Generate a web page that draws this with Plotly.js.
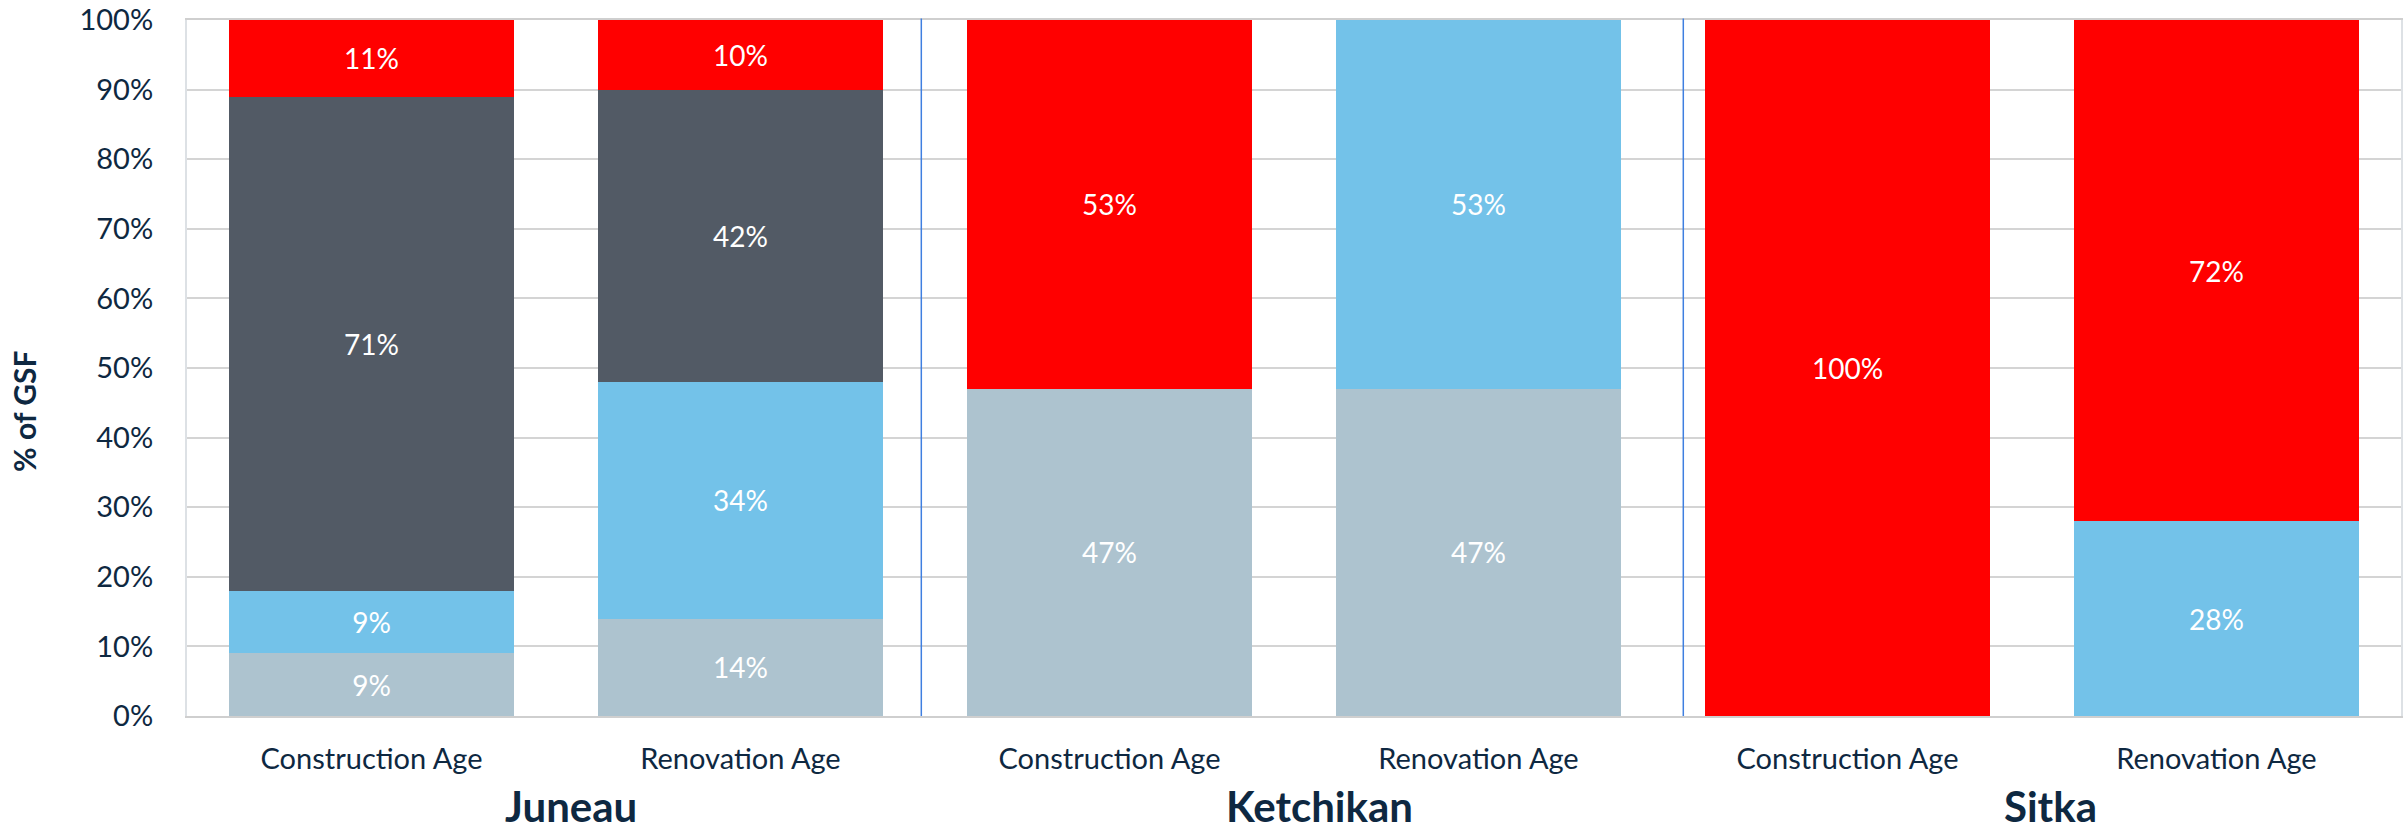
<!DOCTYPE html>
<html>
<head>
<meta charset="utf-8">
<script src="https://cdn.plot.ly/plotly-3.0.1.min.js"></script>
<style>html,body{margin:0;padding:0;background:#fff}#chart{width:2404px;height:832px}</style>
</head>
<body>
<div id="chart"></div>
<script>
// ---- data ----
const categories = ["Juneau|Construction", "Juneau|Renovation", "Ketchikan|Construction", "Ketchikan|Renovation", "Sitka|Construction", "Sitka|Renovation"];
const tickLabels = ["Construction Age", "Renovation Age", "Construction Age", "Renovation Age", "Construction Age", "Renovation Age"];
const groups = ["Juneau", "Ketchikan", "Sitka"];
const seriesA = [9, 14, 47, 47, 0, 0];    // bottom (grey-blue)
const seriesB = [9, 34, 0, 53, 0, 28];    // light blue
const seriesC = [71, 42, 0, 0, 0, 0];     // dark grey
const seriesD = [11, 10, 53, 0, 100, 72]; // red (top)
const yTicks = [0, 10, 20, 30, 40, 50, 60, 70, 80, 90, 100];

const colors = ["#ADC3CF", "#73C2E9", "#525A65", "#FF0000"];
const seriesList = [seriesA, seriesB, seriesC, seriesD];

const traces = seriesList.map((vals, i) => ({
  type: 'bar',
  x: categories,
  y: vals,
  marker: {color: colors[i], line: {width: 0}},
  text: vals.map(v => v > 0 ? v + '%' : ''),
  textposition: 'inside',
  insidetextanchor: 'middle',
  textangle: 0,
  constraintext: 'none',
  textfont: {family: 'Lato, sans-serif', size: 28, color: '#FFFFFF'},
  hoverinfo: 'skip',
  showlegend: false
}));

const textColor = '#0E2841';
const plotTop = 20, plotBottom = 716, plotH = plotBottom - plotTop;
// group label positions (category-index coordinates)
const groupX = [0.54, 2.57, 4.55];
const separators = [1.49, 3.555];

const annotations = groups.map((g, i) => ({
  text: '<b>' + g + '</b>', x: groupX[i], xref: 'x', y: (plotBottom - 832) / plotH, yref: 'paper',
  xanchor: 'center', yanchor: 'bottom', showarrow: false, borderpad: 0,
  font: {family: 'Lato, sans-serif', size: 42, color: textColor}
}));
annotations.push({
  text: '<b>% of GSF</b>', x: (24 - 187) / 2214, xref: 'paper', xanchor: 'center',
  y: (plotBottom - 412) / plotH, yref: 'paper',
  yanchor: 'middle', textangle: -90, showarrow: false,
  font: {family: 'Lato, sans-serif', size: 30, color: textColor}
});

const shapes = separators.map(s => ({
  type: 'line', xref: 'x', yref: 'paper', x0: s, x1: s, y0: 0, y1: 1.002,
  line: {color: '#3F7FE0', width: 1.5}, layer: 'above'
}));

const layout = {
  width: 2404, height: 832,
  margin: {l: 187, r: 3, t: plotTop, b: 832 - plotBottom},
  paper_bgcolor: '#FFFFFF', plot_bgcolor: '#FFFFFF',
  barmode: 'stack', bargap: 0.23,
  font: {family: 'Lato, sans-serif', color: textColor},
  xaxis: {
    type: 'category', categoryorder: 'array', categoryarray: categories,
    tickvals: categories, ticktext: tickLabels,
    tickfont: {family: 'Lato, sans-serif', size: 29, color: textColor},
    ticks: '', ticklabelstandoff: 16,
    showline: true, linecolor: '#CFCFCF', linewidth: 2, mirror: true,
    showgrid: false, zeroline: false, range: [-0.5, 5.5], fixedrange: true
  },
  yaxis: {
    range: [0, 100], tickvals: yTicks, ticktext: yTicks.map(v => v + '%'),
    tickfont: {family: 'Lato, sans-serif', size: 29, color: textColor},
    ticks: '', ticklabelstandoff: 26, ticklabeloverflow: 'allow',
    showgrid: true, gridcolor: '#D4D4D4', gridwidth: 2,
    showline: true, linecolor: '#DDE1E5', linewidth: 2, mirror: true,
    zeroline: false, fixedrange: true
  },
  annotations: annotations,
  shapes: shapes
};

Plotly.newPlot('chart', traces, layout, {displayModeBar: false, staticPlot: true});
</script>
</body>
</html>
